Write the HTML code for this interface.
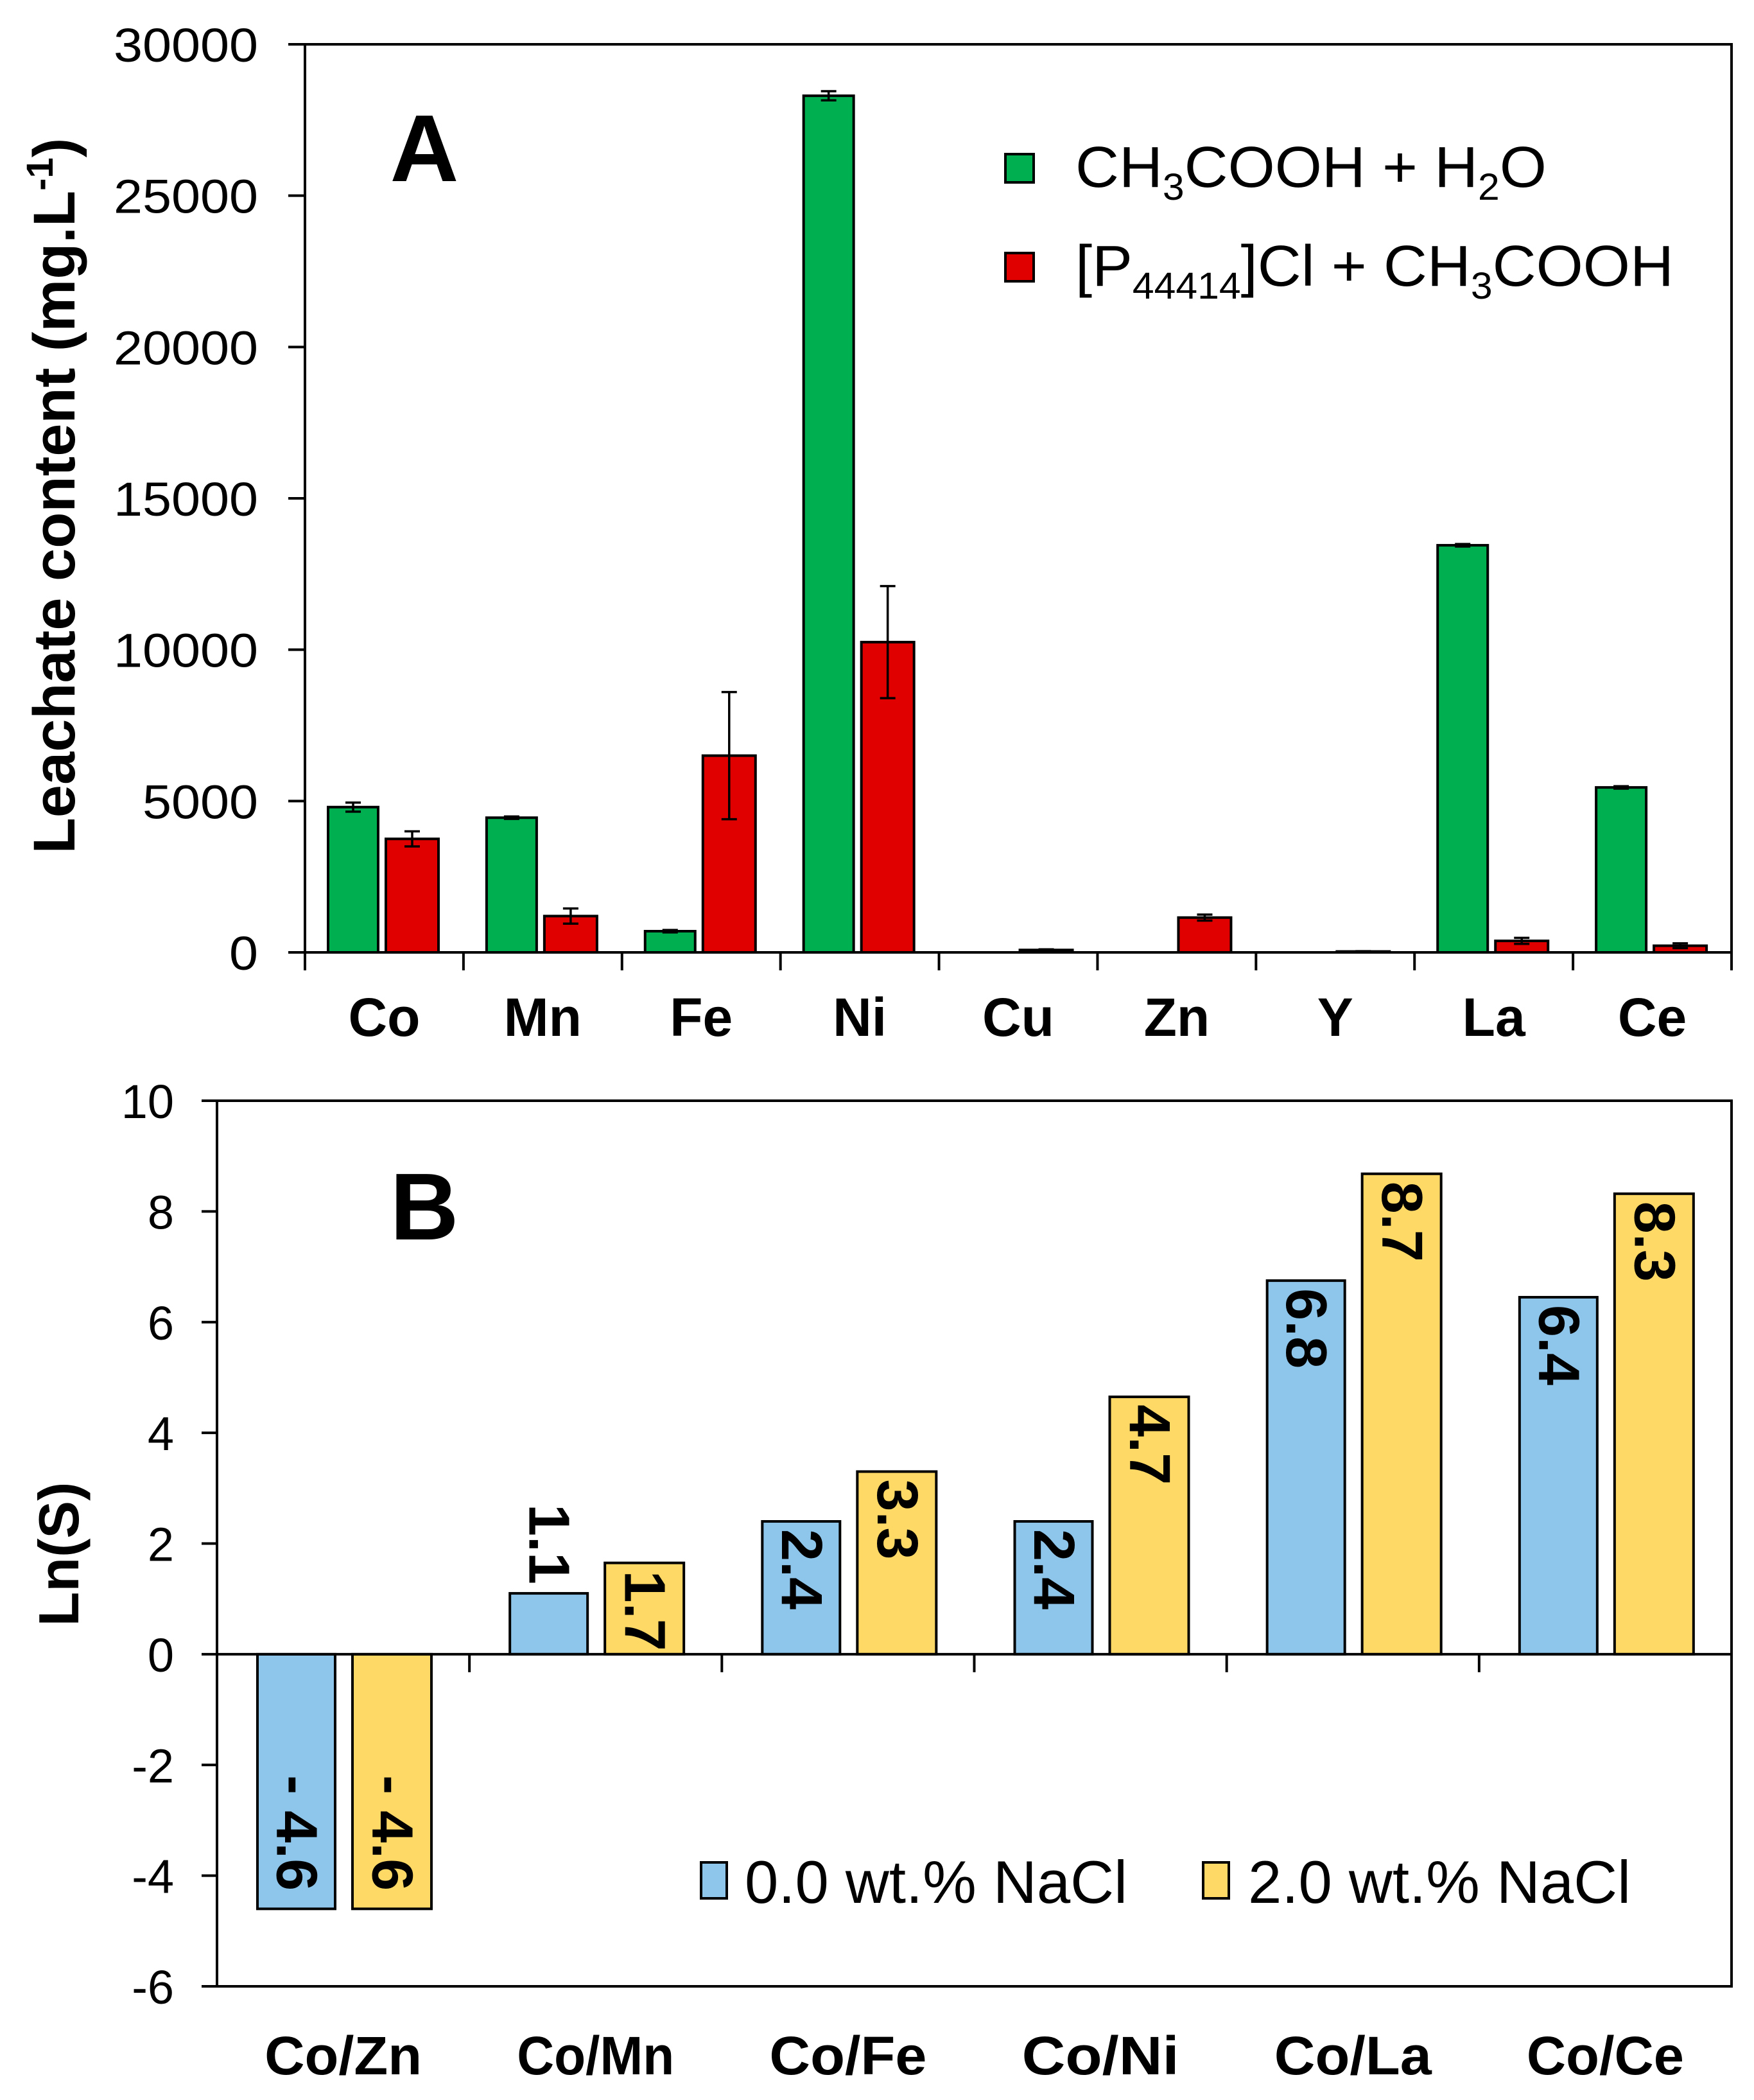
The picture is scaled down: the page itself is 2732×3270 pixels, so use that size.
<!DOCTYPE html>
<html><head><meta charset="utf-8"><style>
html,body{margin:0;padding:0;background:#fff}
svg{display:block;font-family:"Liberation Sans",Arial,sans-serif}
</style></head><body>
<svg id="chart" width="2732" height="3270" viewBox="0 0 2732 3270" xmlns="http://www.w3.org/2000/svg">
<g id="gA"></g>
<g id="gB"></g>
</svg>
<script>
// Panel A data
const catsA = ["Co","Mn","Fe","Ni","Cu","Zn","Y","La","Ce"];
const greenVals = [4800,4450,700,28300,0,0,0,13450,5450];
const greenErr = [150,40,40,150,0,0,0,40,40];
const redVals = [3750,1200,6500,10250,80,1150,30,380,220];
const redErr = [250,250,2100,1850,20,100,10,100,80];
const ticksA = [0,5000,10000,15000,20000,25000,30000];
// Panel B data
const catsB = ["Co/Zn","Co/Mn","Co/Fe","Co/Ni","Co/La","Co/Ce"];
const blueVals = [-4.6,1.1,2.4,2.4,6.75,6.45];
const yellowVals = [-4.6,1.65,3.3,4.65,8.68,8.32];
const blueLabels = ["- 4.6","1.1","2.4","2.4","6.8","6.4"];
const yellowLabels = ["- 4.6","1.7","3.3","4.7","8.7","8.3"];
const ticksB = [-6,-4,-2,0,2,4,6,8,10];

const NS="http://www.w3.org/2000/svg";
function mk(parent,tag,attrs,text){const e=document.createElementNS(NS,tag);for(const k in attrs)e.setAttribute(k,attrs[k]);if(text!==undefined)e.textContent=text;parent.appendChild(e);return e;}

// ---- Panel A ----
const gA=document.getElementById('gA');
const AL=475,AR=2697,AT=69,AB=1483;
const yA=v=>AB-(v/30000)*(AB-AT);
const cwA=(AR-AL)/catsA.length;
let el;
ticksA.forEach(t=>{
  el=mk(gA,'line',{x1:AL-26,x2:AL,y1:yA(t),y2:yA(t),stroke:'#000','stroke-width':4});
  
  
  const s=String(t);
  el=mk(gA,'text',{x:402,y:yA(t)+27,'text-anchor':'end','font-size':74,textLength:s.length*45,lengthAdjust:'spacingAndGlyphs'},s);
  
  
});
function errbar(g,cx,v,e){
  if(e<=0)return;
  mk(g,'line',{x1:cx,x2:cx,y1:yA(v+e),y2:yA(v-e),stroke:'#000','stroke-width':3.5});
  mk(g,'line',{x1:cx-12,x2:cx+12,y1:yA(v+e),y2:yA(v+e),stroke:'#000','stroke-width':3.5});
  mk(g,'line',{x1:cx-12,x2:cx+12,y1:yA(v-e),y2:yA(v-e),stroke:'#000','stroke-width':3.5});
}
catsA.forEach((c,i)=>{
  const x0=AL+i*cwA;
  if(greenVals[i]>0){
    el=mk(gA,'rect',{x:x0+36,y:yA(greenVals[i]),width:78,height:AB-yA(greenVals[i]),fill:'#00b050',stroke:'#000','stroke-width':4});
    
    
    errbar(gA,x0+75,greenVals[i],greenErr[i]);
  }
  el=mk(gA,'rect',{x:x0+126,y:yA(redVals[i]),width:82,height:AB-yA(redVals[i]),fill:'#e00000',stroke:'#000','stroke-width':4});
  
  
  errbar(gA,x0+167,redVals[i],redErr[i]);
  el=mk(gA,'line',{x1:x0,x2:x0,y1:AB,y2:AB+28,stroke:'#000','stroke-width':4});
  
  
  el=mk(gA,'text',{x:x0+cwA/2,y:1613,'text-anchor':'middle','font-size':84,'font-weight':'bold'},c);
  
  
});
el=mk(gA,'line',{x1:AR,x2:AR,y1:AB,y2:AB+28,stroke:'#000','stroke-width':4});
el=mk(gA,'rect',{x:AL,y:AT,width:AR-AL,height:AB-AT,fill:'none',stroke:'#000','stroke-width':4});


el=mk(gA,'text',{x:0,y:0,transform:'translate(116,772) rotate(-90)','text-anchor':'middle','font-size':92,'font-weight':'bold'});


el.innerHTML='Leachate content (mg.L<tspan dy="-34" font-size="58">-1</tspan><tspan dy="34">)</tspan>';
el=mk(gA,'text',{x:661,y:282,'text-anchor':'middle','font-size':148,'font-weight':'bold'},'A');


el=mk(gA,'rect',{x:1566,y:240,width:44,height:44,fill:'#00b050',stroke:'#000','stroke-width':4});


el=mk(gA,'text',{x:1675,y:291,'font-size':90,textLength:734,lengthAdjust:'spacingAndGlyphs'});


el.innerHTML='CH<tspan dy="20" font-size="58">3</tspan><tspan dy="-20">COOH + H</tspan><tspan dy="20" font-size="58">2</tspan><tspan dy="-20">O</tspan>';
el=mk(gA,'rect',{x:1566,y:394,width:44,height:44,fill:'#e00000',stroke:'#000','stroke-width':4});


el=mk(gA,'text',{x:1675,y:445,'font-size':90,textLength:932,lengthAdjust:'spacingAndGlyphs'});


el.innerHTML='[P<tspan dy="20" font-size="58">44414</tspan><tspan dy="-20">]Cl + CH</tspan><tspan dy="20" font-size="58">3</tspan><tspan dy="-20">COOH</tspan>';

// ---- Panel B ----
const gB=document.getElementById('gB');
const BL=338,BR=2697,BT=1714,BB=3093;
const yB=v=>BT+(10-v)/16*(BB-BT);
const cwB=(BR-BL)/catsB.length;
ticksB.forEach(t=>{
  el=mk(gB,'line',{x1:BL-24,x2:BL,y1:yB(t),y2:yB(t),stroke:'#000','stroke-width':4});
  
  
  el=mk(gB,'text',{x:271,y:yB(t)+27,'text-anchor':'end','font-size':74},String(t));
  
  
});
function barB(x,w,v,fill,label,name){
  const y0=yB(0),y1=yB(v);
  el=mk(gB,'rect',{x:x,y:Math.min(y0,y1),width:w,height:Math.abs(y1-y0),fill:fill,stroke:'#000','stroke-width':4});
  
  
  const cx=x+w/2;
  let ty,anchor;
  const labelLen=label.length*40;
  if(v<0){ty=y1-28;anchor='end';}
  else if(Math.abs(y1-y0)<labelLen+10){ty=y1-14;anchor='end';}
  else{ty=y1+12;anchor='start';}
  el=mk(gB,'text',{x:0,y:0,transform:`translate(${cx},${ty}) rotate(90)`,'text-anchor':anchor,'dominant-baseline':'central','font-size':90,'font-weight':'bold'},label);
  
  
}
catsB.forEach((c,i)=>{
  const x0=BL+i*cwB;
  barB(x0+63,121,blueVals[i],'#8ec5ea',blueLabels[i],'bar-blue-'+i);
  barB(x0+211,123,yellowVals[i],'#ffd966',yellowLabels[i],'bar-yellow-'+i);
  if(i>0){
    el=mk(gB,'line',{x1:x0,x2:x0,y1:yB(0),y2:yB(0)+28,stroke:'#000','stroke-width':4});
    
    
  }
  el=mk(gB,'text',{x:x0+cwB/2,y:3230,'text-anchor':'middle','font-size':84,'font-weight':'bold',textLength:c.length*49,lengthAdjust:'spacingAndGlyphs'},c);
  
  
});
el=mk(gB,'line',{x1:BL,x2:BR,y1:yB(0),y2:yB(0),stroke:'#000','stroke-width':4});


el=mk(gB,'rect',{x:BL,y:BT,width:BR-BL,height:BB-BT,fill:'none',stroke:'#000','stroke-width':4});


el=mk(gB,'text',{x:0,y:0,transform:'translate(122,2420) rotate(-90)','text-anchor':'middle','font-size':88,'font-weight':'bold'},'Ln(S)');


el=mk(gB,'text',{x:661,y:1930,'text-anchor':'middle','font-size':148,'font-weight':'bold'},'B');


el=mk(gB,'rect',{x:1092,y:2900,width:40,height:56,fill:'#8ec5ea',stroke:'#000','stroke-width':4});


el=mk(gB,'text',{x:1160,y:2963,'font-size':94,textLength:596,lengthAdjust:'spacingAndGlyphs'},'0.0 wt.% NaCl');


el=mk(gB,'rect',{x:1874,y:2900,width:40,height:56,fill:'#ffd966',stroke:'#000','stroke-width':4});


el=mk(gB,'text',{x:1944,y:2963,'font-size':94,textLength:596,lengthAdjust:'spacingAndGlyphs'},'2.0 wt.% NaCl');


</script>
</body></html>
